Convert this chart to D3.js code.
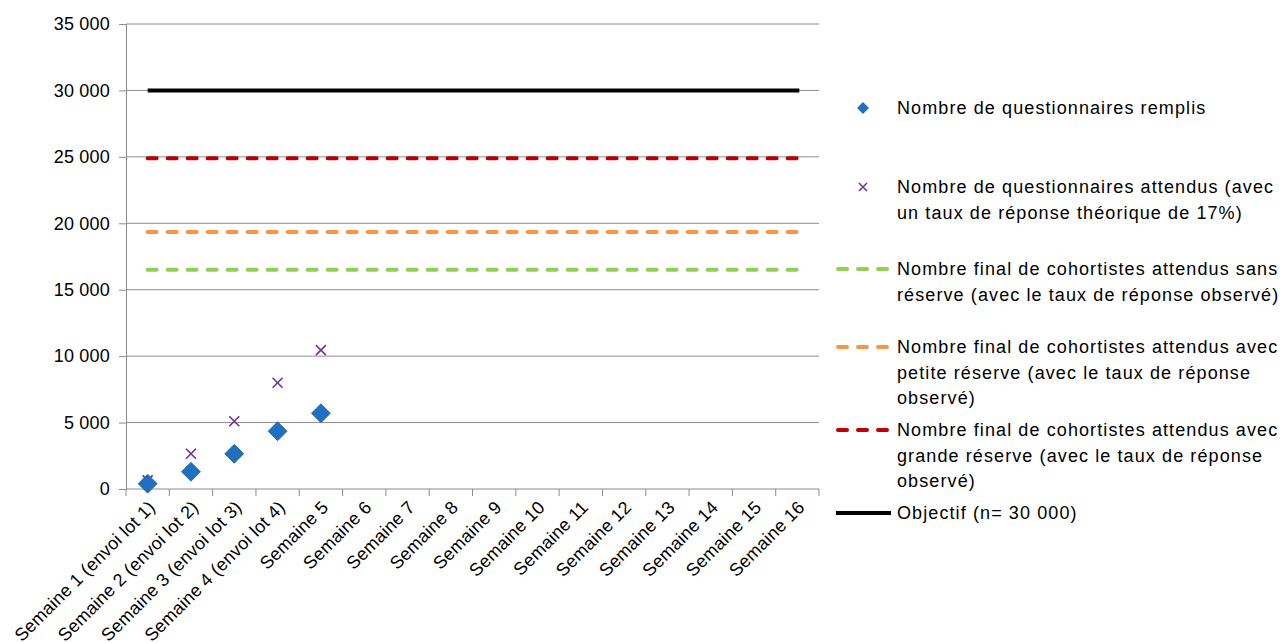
<!DOCTYPE html>
<html lang="fr">
<head>
<meta charset="UTF-8">
<title>Questionnaires</title>
<script src="https://d3js.org/d3.v7.min.js"></script>
<style>
  body { margin: 0; background: #fff; }
  text { font-family: "Liberation Sans", Arial, sans-serif; fill: #000; }
</style>
</head>
<body>
<div id="chart"></div>
<script>
// données
const semaines = ["Semaine 1 (envoi lot 1)", "Semaine 2 (envoi lot 2)", "Semaine 3 (envoi lot 3)", "Semaine 4 (envoi lot 4)",
  "Semaine 5", "Semaine 6", "Semaine 7", "Semaine 8", "Semaine 9", "Semaine 10", "Semaine 11", "Semaine 12",
  "Semaine 13", "Semaine 14", "Semaine 15", "Semaine 16"];
const remplis = [400, 1300, 2650, 4350, 5700];
const attendus = [650, 2650, 5100, 8000, 10450];
const sansReserve = 16500;
const petiteReserve = 19350;
const grandeReserve = 24900;
const objectif = 30000;
const yTicks = [0, 5000, 10000, 15000, 20000, 25000, 30000, 35000];

const width = 1284, height = 643;
const plotLeft = 126, plotRight = 819, plotTop = 24, plotBottom = 489;

const svg = d3.select("#chart").append("svg")
  .attr("width", width).attr("height", height);

const x = d3.scaleBand().domain(semaines).range([plotLeft, plotRight]).padding(0);
const y = d3.scaleLinear().domain([0, 35000]).range([plotBottom, plotTop]);
const fmt = d3.formatLocale({ decimal: ",", thousands: " ", grouping: [3], currency: ["", " €"] }).format(",d");

// grille
svg.append("g").selectAll("line").data(yTicks.filter(d => d > 0)).join("line")
  .attr("x1", plotLeft).attr("x2", plotRight)
  .attr("y1", d => y(d)).attr("y2", d => y(d))
  .attr("stroke", "#8c8c8c").attr("stroke-width", 1);

// axe y
const yAxis = svg.append("g").attr("transform", `translate(${plotLeft},0)`)
  .call(d3.axisLeft(y).tickValues(yTicks).tickFormat(fmt).tickSize(7).tickPadding(9));
yAxis.select(".domain").attr("stroke", "#8c8c8c");
yAxis.selectAll(".tick line").attr("stroke", "#8c8c8c");
yAxis.selectAll("text").style("font-size", "18px").style("letter-spacing", "0.2px").attr("font-family", null);

// axe x
const xAxis = svg.append("g").attr("transform", `translate(0,${plotBottom})`);
xAxis.append("line").attr("x1", plotLeft).attr("x2", plotRight).attr("stroke", "#8c8c8c");
xAxis.selectAll("line.tk").data(semaines.concat(["fin"])).join("line").attr("class", "tk")
  .attr("x1", (d, i) => i < semaines.length ? x(d) : plotRight)
  .attr("x2", (d, i) => i < semaines.length ? x(d) : plotRight)
  .attr("y1", 0).attr("y2", 7).attr("stroke", "#8c8c8c");
xAxis.selectAll("text").data(semaines).join("text")
  .attr("transform", d => `translate(${x(d) + x.bandwidth() / 2 + 4},${15}) rotate(-45)`)
  .attr("text-anchor", "end")
  .attr("dy", "0.35em")
  .style("font-size", "18px")
  .style("letter-spacing", "0.2px")
  .text(d => d);

// lignes horizontales
const xStart = x(semaines[0]) + x.bandwidth() / 2;
const xEnd = x(semaines[semaines.length - 1]) + x.bandwidth() / 2;
const niveaux = [
  { v: sansReserve, color: "#92D050", dash: "9,11" },
  { v: petiteReserve, color: "#F79646", dash: "9,11" },
  { v: grandeReserve, color: "#C00000", dash: "9,11" },
  { v: objectif, color: "#000000", dash: null }
];
svg.append("g").selectAll("line").data(niveaux).join("line")
  .attr("x1", xStart).attr("x2", xEnd + 2)
  .attr("y1", d => y(d.v)).attr("y2", d => y(d.v))
  .attr("stroke", d => d.color).attr("stroke-width", 4)
  .attr("stroke-linecap", d => d.dash ? "round" : "butt")
  .attr("stroke-dasharray", d => d.dash);

// croix
const crossPath = "M-5,-5L5,5M-5,5L5,-5";
svg.append("g").selectAll("path").data(attendus).join("path")
  .attr("transform", (d, i) => `translate(${x(semaines[i]) + x.bandwidth() / 2},${y(d)})`)
  .attr("d", crossPath).attr("stroke", "#7030A0").attr("stroke-width", 1.6).attr("fill", "none");

// losanges
const diamond = d3.symbol().type(d3.symbolDiamond2).size(230);
svg.append("g").selectAll("path").data(remplis).join("path")
  .attr("transform", (d, i) => `translate(${x(semaines[i]) + x.bandwidth() / 2},${y(d)})`)
  .attr("d", diamond).attr("fill", "#1F70C1").attr("stroke", "#2A5F98").attr("stroke-width", 0.8);

// légende
const legend = [
  { type: "diamond", lines: ["Nombre de questionnaires remplis"], y: 108 },
  { type: "cross", lines: ["Nombre de questionnaires attendus (avec", "un taux de réponse théorique de 17%)"], y: 187 },
  { type: "line", color: "#92D050", dash: "9,11", lines: ["Nombre final de cohortistes attendus sans", "réserve (avec le taux de réponse observé)"], y: 269 },
  { type: "line", color: "#F79646", dash: "9,11", lines: ["Nombre final de cohortistes attendus avec", "petite réserve (avec le taux de réponse", "observé)"], y: 347 },
  { type: "line", color: "#C00000", dash: "9,11", lines: ["Nombre final de cohortistes attendus avec", "grande réserve (avec le taux de réponse", "observé)"], y: 430 },
  { type: "line", color: "#000000", dash: null, lines: ["Objectif (n= 30 000)"], y: 513 }
];
const lg = svg.append("g");
legend.forEach(l => {
  const g = lg.append("g").attr("transform", `translate(0,${l.y})`);
  if (l.type === "diamond") {
    g.append("path").attr("transform", "translate(863,0)")
      .attr("d", d3.symbol().type(d3.symbolDiamond2).size(90)).attr("fill", "#1F70C1");
  } else if (l.type === "cross") {
    g.append("path").attr("transform", "translate(863,0) scale(0.8)")
      .attr("d", crossPath).attr("stroke", "#7030A0").attr("stroke-width", 2).attr("fill", "none");
  } else {
    g.append("line").attr("x1", l.dash ? 838 : 836).attr("x2", l.dash ? 889 : 891)
      .attr("stroke", l.color).attr("stroke-width", 4)
      .attr("stroke-linecap", l.dash ? "round" : "butt")
      .attr("stroke-dasharray", l.dash);
  }
  g.selectAll("text").data(l.lines).join("text")
    .attr("x", 897).attr("y", (d, i) => i * 25.5).attr("dy", "0.35em")
    .style("font-size", "18px").style("letter-spacing", "1.1px").text(d => d);
});
</script>
</body>
</html>
